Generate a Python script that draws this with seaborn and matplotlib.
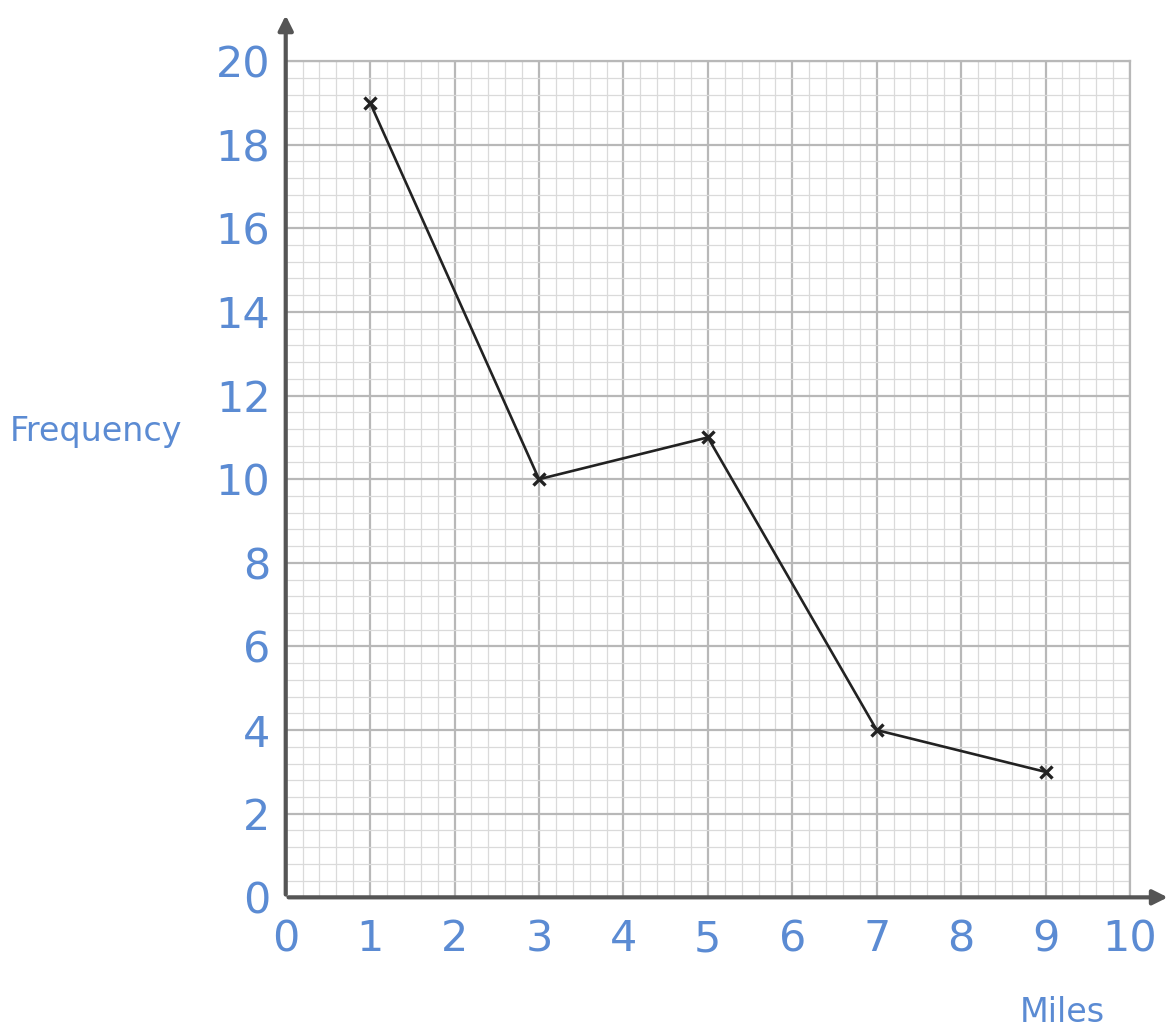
import numpy as np
import pandas as pd
import matplotlib
matplotlib.use("Agg")
import matplotlib.pyplot as plt
import seaborn as sns
from matplotlib.ticker import MultipleLocator

miles = [1, 3, 5, 7, 9]
frequency = [19, 10, 11, 4, 3]
x_ticks = list(range(0, 11))
y_ticks = list(range(0, 21, 2))

df = pd.DataFrame({"Miles": miles, "Frequency": frequency})

sns.set_style("white")
plt.rcParams['font.family'] = ['DejaVu Sans']

blue = "#5b8bd3"
axis_grey = "#555555"

fig = plt.figure(figsize=(11.71, 10.35), dpi=100)
ax = fig.add_axes([0.244, 0.133, 0.721, 0.808])

# graph paper grid
ax.xaxis.set_major_locator(MultipleLocator(1))
ax.xaxis.set_minor_locator(MultipleLocator(0.2))
ax.yaxis.set_major_locator(MultipleLocator(2))
ax.yaxis.set_minor_locator(MultipleLocator(0.4))
ax.grid(which="major", color="#b8b8b8", linewidth=1.6)
ax.grid(which="minor", color="#dadada", linewidth=0.9)
ax.set_axisbelow(True)

sns.lineplot(data=df, x="Miles", y="Frequency", ax=ax, color="#222222",
             linewidth=1.9, marker="x", markersize=9, markeredgewidth=2.4,
             markeredgecolor="#222222")

ax.set_xlim(0, 10)
ax.set_ylim(0, 20)
ax.set_xticks(x_ticks)
ax.set_yticks(y_ticks)
ax.set_xticklabels([str(t) for t in x_ticks], color=blue, fontsize=31)
ax.set_yticklabels([str(t) for t in y_ticks], color=blue, fontsize=31)
ax.tick_params(axis="both", which="both", length=0)
ax.tick_params(axis="x", pad=15)
ax.tick_params(axis="y", pad=11)

for side in ["top", "right"]:
    ax.spines[side].set_color("#b8b8b8")
    ax.spines[side].set_linewidth(1.6)
for side in ["left", "bottom"]:
    ax.spines[side].set_visible(False)

# axes with arrow heads
ax.annotate("", xy=(0, 1.058), xytext=(0, 0), xycoords="axes fraction",
            arrowprops=dict(arrowstyle="-|>", color=axis_grey, lw=3,
                            mutation_scale=22), annotation_clip=False)
ax.annotate("", xy=(1.048, 0), xytext=(0, 0), xycoords="axes fraction",
            arrowprops=dict(arrowstyle="-|>", color=axis_grey, lw=3,
                            mutation_scale=22), annotation_clip=False)

ax.set_xlabel("")
ax.set_ylabel("")
fig.text(0.008, 0.583, "Frequency", color=blue, fontsize=24, ha="left", va="center")
fig.text(0.907, 0.006, "Miles", color=blue, fontsize=24, ha="center", va="bottom")

fig.savefig("out.png", dpi=100, facecolor="white")
